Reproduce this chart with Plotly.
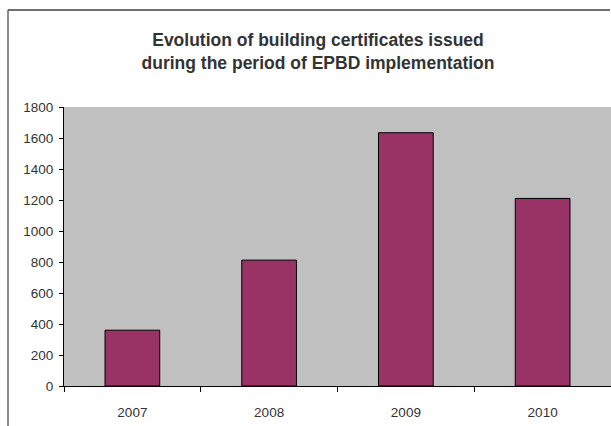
import plotly.graph_objects as go

years = ["2007", "2008", "2009", "2010"]
certificates = [360, 812, 1634, 1210]
y_ticks = [0, 200, 400, 600, 800, 1000, 1200, 1400, 1600, 1800]

W, H = 611, 426
L, R, T, B = 64, 0, 107, 40
pw, ph = W - L - R, H - T - B

fig = go.Figure(
    go.Bar(
        x=years,
        y=certificates,
        marker=dict(color="#993366", line=dict(color="#000000", width=1)),
        width=0.4,
    )
)

def px_x(p):
    return (p - L) / pw

def px_y(p):
    return (H - B - p) / ph

fig.update_layout(
    width=W,
    height=H,
    margin=dict(l=L, r=R, t=T, b=B),
    paper_bgcolor="white",
    plot_bgcolor="#C0C0C0",
    showlegend=False,
    font=dict(family="Liberation Sans, Arial, sans-serif", color="#333333"),
    title=dict(
        text="<b>Evolution of building certificates issued<br>during the period of EPBD implementation</b>",
        font=dict(size=17.5, color="#333333", family="Liberation Sans, Arial, sans-serif"),
        x=318 / W,
        xanchor="center",
        xref="container",
        y=1 - 46 / H,
        yanchor="top",
        yref="container",
        pad=dict(t=0, b=0),
    ),
    xaxis=dict(
        type="category",
        showgrid=False,
        showline=True,
        linecolor="#000000",
        linewidth=1,
        ticks="outside",
        tickson="boundaries",
        ticklen=5,
        tickcolor="#000000",
        tickfont=dict(size=13.5, color="#333333"),
        ticklabelstandoff=14,
        range=[-0.5, 3.5],
    ),
    yaxis=dict(
        range=[0, 1800],
        tickvals=y_ticks,
        ticktext=[str(v) for v in y_ticks],
        showgrid=False,
        zeroline=False,
        showline=True,
        linecolor="#000000",
        linewidth=1,
        ticks="outside",
        ticklen=4,
        tickcolor="#000000",
        tickfont=dict(size=13.5, color="#333333"),
        ticklabelstandoff=3,
    ),
    shapes=[
        dict(
            type="line", xref="paper", yref="paper",
            x0=px_x(8), x1=px_x(W - 1), y0=px_y(10), y1=px_y(10),
            line=dict(color="#404040", width=1.5), layer="above",
        ),
        dict(
            type="line", xref="paper", yref="paper",
            x0=px_x(8), x1=px_x(8), y0=px_y(10), y1=px_y(H + 20),
            line=dict(color="#404040", width=1.2), layer="above",
        ),
    ],
)

fig.write_html(
    "out.html",
    config={"displayModeBar": False},
    post_script="document.body.style.margin='0';document.body.style.overflow='hidden';",
)
